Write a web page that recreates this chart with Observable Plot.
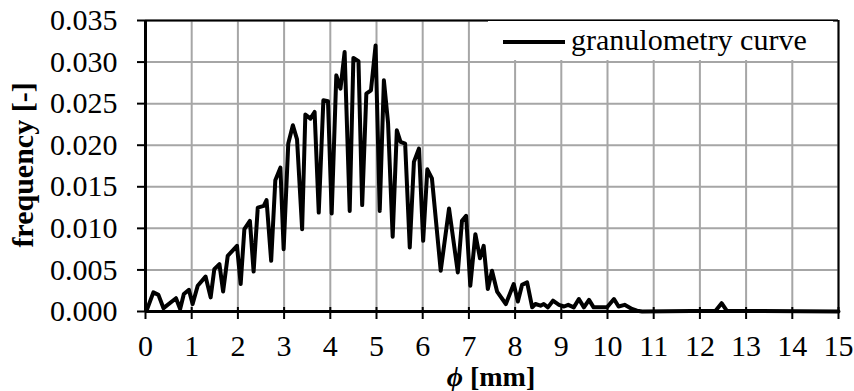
<!DOCTYPE html>
<html>
<head>
<meta charset="utf-8">
<script src="https://cdn.jsdelivr.net/npm/d3@7"></script>
<script src="https://cdn.jsdelivr.net/npm/@observablehq/plot@0.6"></script>
<style>
  body { margin: 0; background: #fff; }
  #wrap { position: relative; width: 854px; height: 391px; font-family: "Liberation Serif", "Times New Roman", serif; color: #000; }
  #wrap svg { position: absolute; left: 0; top: 0; }
  .ytitle { position: absolute; left: 23px; top: 165px; transform: translate(-50%, -50%) rotate(-90deg); font-weight: bold; font-size: 30px; line-height: 30px; white-space: nowrap; }
  .xtitle { position: absolute; left: 491px; top: 364px; transform: translateX(-50%); font-weight: bold; font-size: 28px; line-height: 26px; white-space: nowrap; }
  .legend { position: absolute; left: 488px; top: 21px; width: 345px; height: 39px; background: #fff; }
  .legend .sw { position: absolute; left: 15px; top: 19px; width: 62px; height: 4px; background: #000; }
  .legend .lt { position: absolute; left: 83px; top: 4px; font-size: 30px; line-height: 30px; white-space: nowrap; }
</style>
</head>
<body>
<div id="wrap"></div>
<script>
// Particle diameter phi [mm]
const phi = [
  0.03, 0.17, 0.28, 0.39, 0.66, 0.75, 0.83, 0.94, 1.02, 1.13,
  1.30, 1.41, 1.49, 1.60, 1.68, 1.78, 1.98, 2.06, 2.14, 2.26,
  2.34, 2.43, 2.56, 2.62, 2.72, 2.81, 2.92, 2.99, 3.09, 3.19,
  3.28, 3.39, 3.46, 3.57, 3.66, 3.75, 3.85, 3.95, 4.03, 4.13,
  4.22, 4.31, 4.42, 4.50, 4.61, 4.69, 4.78, 4.88, 4.98, 5.07,
  5.16, 5.25, 5.35, 5.44, 5.52, 5.62, 5.72, 5.81, 5.92, 6.01,
  6.10, 6.20, 6.39, 6.57, 6.76, 6.85, 6.94, 7.03, 7.14, 7.24,
  7.32, 7.41, 7.50, 7.61, 7.80, 7.97, 8.06, 8.15, 8.26, 8.37,
  8.44, 8.55, 8.62, 8.71, 8.82, 8.95, 9.06, 9.15, 9.27, 9.38,
  9.49, 9.60, 9.70, 9.99, 10.14, 10.24, 10.37, 10.53, 10.64, 10.75,
  12.34, 12.47, 12.58, 15.00
];
// Frequency [-]
const freq = [
  0.0002, 0.0023, 0.0020, 0.0004, 0.0016, 0.0003, 0.0021, 0.0026, 0.0009, 0.0031,
  0.0042, 0.0017, 0.0051, 0.0057, 0.0024, 0.0067, 0.0079, 0.0033, 0.0099, 0.0109,
  0.0048, 0.0125, 0.0127, 0.0134, 0.0061, 0.0158, 0.0173, 0.0075, 0.0202, 0.0224,
  0.0207, 0.0099, 0.0237, 0.0232, 0.0240, 0.0119, 0.0254, 0.0253, 0.0118, 0.0284,
  0.0268, 0.0312, 0.0121, 0.0305, 0.0301, 0.0128, 0.0262, 0.0266, 0.0320, 0.0121,
  0.0278, 0.0227, 0.0090, 0.0218, 0.0204, 0.0202, 0.0077, 0.0180, 0.0196, 0.0085,
  0.0171, 0.0160, 0.0049, 0.0124, 0.0047, 0.0109, 0.0115, 0.0031, 0.0093, 0.0064,
  0.0079, 0.0027, 0.0049, 0.0024, 0.0009, 0.0033, 0.0012, 0.0032, 0.0035, 0.0005,
  0.0009, 0.0007, 0.0009, 0.0005, 0.0013, 0.0008, 0.0006, 0.0008, 0.0005, 0.0015,
  0.0005, 0.0014, 0.0005, 0.0005, 0.0015, 0.0006, 0.0008, 0.0003, 0.0001, 0.0000,
  0.0001, 0.0010, 0.0001, 0.0000
];
const xTicks = [0, 1, 2, 3, 4, 5, 6, 7, 8, 9, 10, 11, 12, 13, 14, 15];
const yTicks = [0, 0.005, 0.010, 0.015, 0.020, 0.025, 0.030, 0.035];
const seriesName = "granulometry curve";
const yTitle = "frequency [-]";
const xTitleSymbol = "\u03D5";
const xTitleUnit = " [mm]";

const data = phi.map((x, i) => ({phi: x, freq: freq[i]}));
const gridColor = "#a6a6a6";
const serif = "'Liberation Serif', 'Times New Roman', serif";

const chart = Plot.plot({
  width: 854,
  height: 391,
  marginLeft: 145,
  marginRight: 16,
  marginTop: 20,
  marginBottom: 80,
  style: {fontFamily: serif, background: "white", overflow: "visible", color: "black"},
  x: {domain: [0, 15]},
  y: {domain: [0, 0.035]},
  marks: [
    Plot.gridX(xTicks, {stroke: gridColor, strokeOpacity: 1, strokeWidth: 2}),
    Plot.gridY(yTicks, {stroke: gridColor, strokeOpacity: 1, strokeWidth: 2}),
    Plot.line(data, {x: "phi", y: "freq", stroke: "black", strokeWidth: 4}),
    Plot.ruleX([15], {stroke: "black", strokeWidth: 2}),
    Plot.ruleY([0.035], {stroke: "black", strokeWidth: 2}),
    Plot.ruleX([0], {stroke: "black", strokeWidth: 3}),
    Plot.ruleY([0], {stroke: "black", strokeWidth: 3}),
    Plot.ruleX(xTicks, {x: d => d, y1: 0, y2: 0, insetTop: -4, insetBottom: -8, stroke: "black", strokeWidth: 2}),
    Plot.axisX(xTicks, {tickSize: 0, tickPadding: 23, fontSize: 30, fontFamily: serif, label: null, fill: "black"}),
    Plot.axisY(yTicks, {tickSize: 8, tickPadding: 20, fontSize: 30, fontFamily: serif, tickFormat: d3.format(".3f"), label: null, stroke: "black", strokeWidth: 2, fill: "black"})
  ]
});

const wrap = document.getElementById("wrap");
wrap.appendChild(chart);

const yt = document.createElement("div");
yt.className = "ytitle";
yt.textContent = yTitle;
wrap.appendChild(yt);

const xt = document.createElement("div");
xt.className = "xtitle";
const sym = document.createElement("i");
sym.textContent = xTitleSymbol;
xt.appendChild(sym);
xt.appendChild(document.createTextNode(xTitleUnit));
wrap.appendChild(xt);

const lg = document.createElement("div");
lg.className = "legend";
const sw = document.createElement("div");
sw.className = "sw";
const lt = document.createElement("div");
lt.className = "lt";
lt.textContent = seriesName;
lg.appendChild(sw);
lg.appendChild(lt);
wrap.appendChild(lg);
</script>
</body>
</html>
